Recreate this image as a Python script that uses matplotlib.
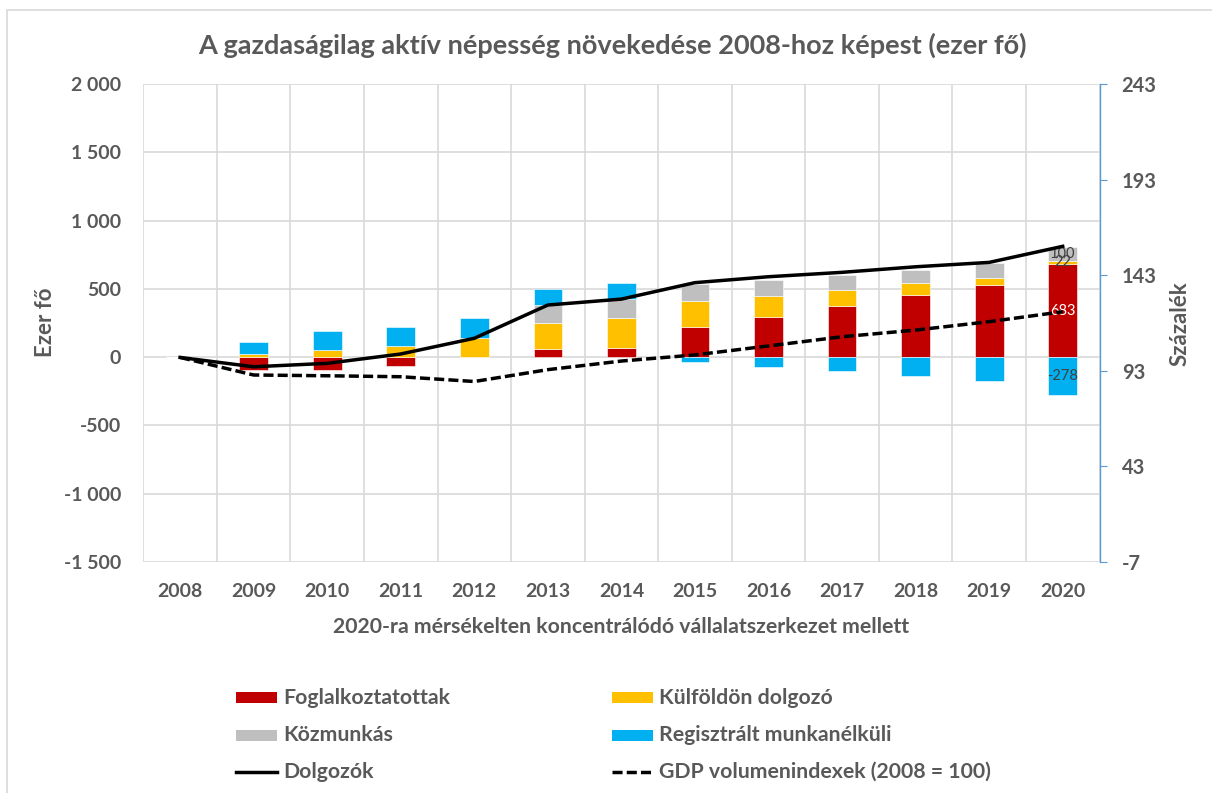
import matplotlib
matplotlib.use("Agg")
import matplotlib.pyplot as plt
import numpy as np
from matplotlib.patches import Rectangle
from matplotlib.lines import Line2D
from matplotlib.ticker import FixedLocator, FuncFormatter

plt.rcParams['font.family'] = ['Lato', 'DejaVu Sans']

years = ['2008', '2009', '2010', '2011', '2012', '2013', '2014', '2015', '2016', '2017', '2018', '2019', '2020']
foglalkoztatottak = [0, -95, -97, -68, 0, 59, 68, 222, 295, 371, 452, 525, 683]
kulfoldon = [0, 20, 50, 85, 137, 193, 222, 188, 156, 124, 88, 56, 22]
kozmunkas = [0, 0, 0, 0, 0, 129, 134, 129, 115, 108, 100, 105, 100]
regisztralt = [0, 90, 145, 139, 146, 117, 119, -37, -71, -105, -139, -173, -278]
dolgozok = [100, 95.1, 96.9, 101.8, 110.0, 127.4, 130.5, 139.1, 142.2, 144.5, 147.4, 149.7, 158.1]
gdp = [100, 90.8, 90.4, 89.9, 87.4, 93.6, 98.1, 101.3, 106.0, 110.8, 114.3, 118.7, 123.9]

labels = ['Foglalkoztatottak', 'Külföldön dolgozó', 'Közmunkás', 'Regisztrált munkanélküli',
          'Dolgozók', 'GDP volumenindexek (2008 = 100)']
colors = ['#C00000', '#FFC000', '#BFBFBF', '#00B0F0']
TXT = '#595959'
DASH = (0, (2.9, 1.2))
LW = 2.5

W, H = 1212, 793
fig = plt.figure(figsize=(W / 100, H / 100), dpi=100)
L, R, T, B = 143.3, 1099.5, 84, 562
ax = fig.add_axes([L / W, 1 - B / H, (R - L) / W, (B - T) / H])
ax2 = ax.twinx()

x = np.arange(len(years))
series = [foglalkoztatottak, kulfoldon, kozmunkas, regisztralt]
pos_base = np.zeros(len(years))
neg_base = np.zeros(len(years))
bars = []
for vals, c in zip(series, colors):
    v = np.array(vals, dtype=float)
    base = np.where(v >= 0, pos_base, neg_base)
    ax.bar(x, v, bottom=base, width=0.39, color=c, edgecolor='white', linewidth=0.4, zorder=3)
    bars.append((v, base))
    pos_base = pos_base + np.where(v > 0, v, 0)
    neg_base = neg_base + np.where(v < 0, v, 0)

# data labels for last year
i = len(years) - 1
lab_colors = ['white', '#404040', '#404040', '#404040']
for (v, base), lc in zip(bars, lab_colors):
    if v[i] != 0:
        ax.text(x[i], base[i] + v[i] / 2, f'{int(v[i])}', ha='center', va='center',
                fontsize=10.5, color=lc, zorder=5)

ax.set_ylim(-1500, 2000)
ax.set_xlim(-0.5, len(years) - 0.5)
ax.yaxis.set_major_locator(FixedLocator(np.arange(-1500, 2001, 500)))
ax.yaxis.set_major_formatter(FuncFormatter(lambda v, p: f'{int(v):,}'.replace(',', ' ')))
ax.set_xticks(x)
ax.set_xticklabels(years)
ax.xaxis.set_minor_locator(FixedLocator(np.arange(-0.5, len(years), 1.0)))
ax.grid(True, which='major', axis='y', color='#D9D9D9', linewidth=1.2, zorder=0)
ax.grid(True, which='minor', axis='x', color='#D9D9D9', linewidth=1.2, zorder=0)
ax.set_axisbelow(True)
for s in ['top', 'bottom', 'left', 'right']:
    ax.spines[s].set_visible(False)
ax.tick_params(axis='y', which='both', length=0, labelsize=14, labelcolor=TXT, pad=16)
ax.tick_params(axis='x', which='both', length=0, labelsize=14, labelcolor=TXT, pad=15)
for t in ax.get_xticklabels() + ax.get_yticklabels():
    t.set_fontweight('bold')

ax2.plot(x, dolgozok, color='black', linewidth=LW, zorder=6)
ax2.plot(x, gdp, color='black', linewidth=LW, linestyle=DASH, zorder=6)
ax2.set_ylim(-7, 243)
ax2.yaxis.set_major_locator(FixedLocator(np.arange(-7, 244, 50)))
ax2.yaxis.set_major_formatter(FuncFormatter(lambda v, p: f'{int(round(v))}'))
for s in ['top', 'bottom', 'left']:
    ax2.spines[s].set_visible(False)
ax2.spines['right'].set_color('#5B9BD5')
ax2.spines['right'].set_linewidth(1.0)
ax2.tick_params(axis='y', length=5, color='#5B9BD5', labelsize=14.5, labelcolor=TXT, pad=11)
for t in ax2.get_yticklabels():
    t.set_fontweight('bold')
ax.set_zorder(ax2.get_zorder() - 1)
ax2.patch.set_visible(False)
ax.patch.set_visible(True)

fig.text(612 / W, 1 - 45 / H, 'A gazdaságilag aktív népesség növekedése 2008-hoz képest (ezer fő)',
         ha='center', va='center', fontsize=19.5, fontweight='bold', color=TXT)
fig.text(45 / W, 1 - 322 / H, 'Ezer fő', rotation=90, ha='center', va='center',
         fontsize=16, fontweight='bold', color=TXT)
fig.text(1180 / W, 1 - 324 / H, 'Százalék', rotation=90, ha='center', va='center',
         fontsize=16, fontweight='bold', color=TXT)
fig.text(621 / W, 1 - 627 / H, '2020-ra mérsékelten koncentrálódó vállalatszerkezet mellett',
         ha='center', va='center', fontsize=15.3, fontweight='bold', color=TXT)

# chart border
fig.add_artist(Rectangle((7 / W, -0.01), 1.02 - 7 / W, 1 - 10 / H + 0.01, transform=fig.transFigure,
                         fill=False, edgecolor='#D9D9D9', linewidth=1.2))

# legend
items = [
    (236, 697.5, 'patch', colors[0], labels[0]),
    (612, 697.5, 'patch', colors[1], labels[1]),
    (236, 735, 'patch', colors[2], labels[2]),
    (612, 735, 'patch', colors[3], labels[3]),
    (236, 771.5, 'solid', 'black', labels[4]),
    (612, 771.5, 'dash', 'black', labels[5]),
]
for px, py, kind, c, lab in items:
    if kind == 'patch':
        fig.add_artist(Rectangle((px / W, 1 - (py + 5.5) / H), 41 / W, 11 / H,
                                 transform=fig.transFigure, facecolor=c, edgecolor='none'))
    else:
        ls = '-' if kind == 'solid' else DASH
        fig.add_artist(Line2D([px / W, (px + 41) / W], [1 - py / H, 1 - py / H],
                              transform=fig.transFigure, color=c, linewidth=LW, linestyle=ls))
    fig.text((px + 47) / W, 1 - py / H, lab, ha='left', va='center', fontsize=15.3,
             fontweight='bold', color=TXT)

fig.savefig('out.png', dpi=100)
